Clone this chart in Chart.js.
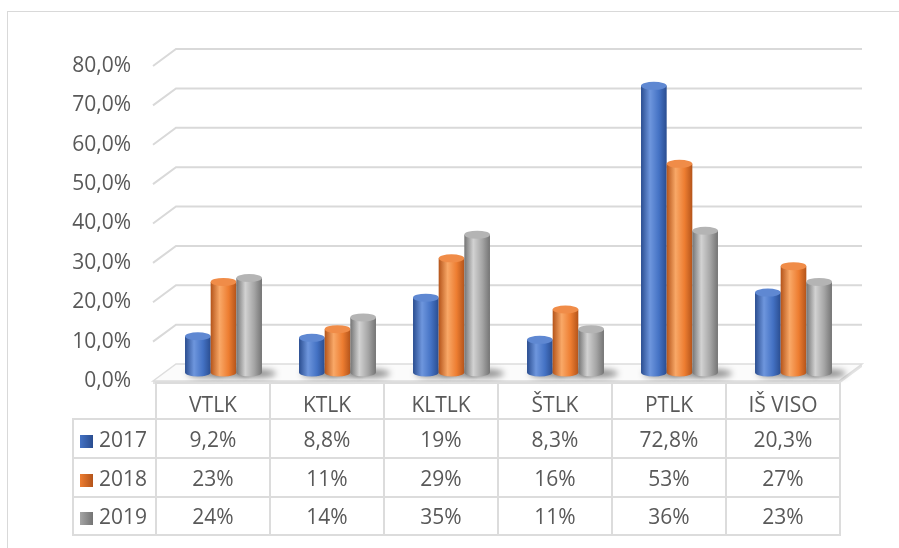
<!DOCTYPE html>
<html>
<head>
<meta charset="utf-8">
<script src="https://cdn.jsdelivr.net/npm/chart.js@4.4.0/dist/chart.umd.min.js"></script>
<style>
body { margin: 0; background: #fff; }
#wrap { position: relative; width: 899px; height: 548px; overflow: hidden; font-family: 'Open Sans', sans-serif; }
#frame { position: absolute; left: 7px; top: 11px; width: 1000px; height: 1000px; border: 1px solid #d9d9d9; }
canvas { position: absolute; left: 0; top: 0; }
#tbl { position: absolute; border-collapse: collapse; color: #595959; font-size: 21px; table-layout: fixed; }
#tbl td { border: 2px solid #dcdcdc; text-align: center; padding: 0; white-space: nowrap; }
#tbl td.lbl { text-align: left; padding-left: 6px; }
#tbl td.empty { border: none; }
.sw { display: inline-block; width: 13px; height: 13px; margin-right: 6px; vertical-align: -1px; }
</style>
</head>
<body>
<div id="wrap">
  <div id="frame"></div>
  <canvas id="chart" width="899" height="548"></canvas>
  <table id="tbl"></table>
</div>
<script>
// Duomenys
const categories = ['VTLK', 'KTLK', 'KLTLK', 'ŠTLK', 'PTLK', 'IŠ VISO'];
const years = ['2017', '2018', '2019'];
const values2017 = [9.2, 8.8, 19, 8.3, 72.8, 20.3];
const values2018 = [23, 11, 29, 16, 53, 27];
const values2019 = [24, 14, 35, 11, 36, 23];
const yTicks = [0, 10, 20, 30, 40, 50, 60, 70, 80];

const series = [values2017, values2018, values2019];
const palette = [
    { dark: '#2a4d90', light: '#6e96dd', mid: '#4472c4', top: '#5f88d2' },
    { dark: '#b4541a', light: '#f9a867', mid: '#ed7d31', top: '#f08c48' },
    { dark: '#747474', light: '#d2d2d2', mid: '#a5a5a5', top: '#b4b4b4' }
];

// 3D poslinkis (gylis)
const DX = 23, DY = -17;

function fmtPct(v) {
    return (Number.isInteger(v) ? String(v) : String(v).replace('.', ',')) + '%';
}

function drawCylinder(ctx, cx, top, base, w, c) {
    const rx = w / 2, ry = 4;
    const g = ctx.createLinearGradient(cx - rx, 0, cx + rx, 0);
    g.addColorStop(0, c.dark);
    g.addColorStop(0.35, c.light);
    g.addColorStop(0.7, c.mid);
    g.addColorStop(1, c.dark);
    ctx.fillStyle = g;
    ctx.beginPath();
    ctx.moveTo(cx - rx, top);
    ctx.lineTo(cx - rx, base);
    ctx.ellipse(cx, base, rx, ry, 0, Math.PI, 0, true);
    ctx.lineTo(cx + rx, top);
    ctx.closePath();
    ctx.fill();
    ctx.fillStyle = c.top;
    ctx.beginPath();
    ctx.ellipse(cx, top, rx, ry, 0, 0, Math.PI * 2);
    ctx.fill();
}

const cylinderPlugin = {
    id: 'cylinders',
    beforeDatasetsDraw(chart) {
        const ctx = chart.ctx;
        const area = chart.chartArea;
        const y = chart.scales.y;
        ctx.save();

        // galinės sienos tinklelis
        ctx.strokeStyle = '#d9d9d9';
        ctx.lineWidth = 2;
        yTicks.forEach(t => {
            if (t === 0) return;
            const py = y.getPixelForValue(t);
            ctx.beginPath();
            ctx.moveTo(area.left - 2, py);
            ctx.lineTo(area.left - 2 + DX, py + DY);
            ctx.lineTo(area.right + DX, py + DY);
            ctx.stroke();
        });

        // grindys
        const fy = y.getPixelForValue(0);
        const fl = area.left - 2, fr = area.right;
        ctx.fillStyle = '#e3e3e3';
        ctx.beginPath();
        ctx.moveTo(fl, fy);
        ctx.lineTo(fr, fy);
        ctx.lineTo(fr + DX, fy + DY);
        ctx.lineTo(fr + DX, fy + DY + 3);
        ctx.lineTo(fr, fy + 3);
        ctx.lineTo(fl, fy + 3);
        ctx.closePath();
        ctx.fill();
        ctx.fillStyle = '#fbfbfb';
        ctx.strokeStyle = '#dddddd';
        ctx.lineWidth = 1.5;
        ctx.beginPath();
        ctx.moveTo(fl, fy);
        ctx.lineTo(fl + DX, fy + DY);
        ctx.lineTo(fr + DX, fy + DY);
        ctx.lineTo(fr, fy);
        ctx.closePath();
        ctx.fill();
        ctx.stroke();

        // šešėliai
        ctx.filter = 'blur(3px)';
        chart.data.datasets.forEach((ds, di) => {
            chart.getDatasetMeta(di).data.forEach(bar => {
                const cx = bar.x + DX / 2;
                const base = bar.base + DY / 2;
                ctx.fillStyle = 'rgba(0,0,0,0.45)';
                ctx.beginPath();
                ctx.ellipse(cx + 8, base + 1, bar.width / 2 + 6, 4, 0, 0, Math.PI * 2);
                ctx.fill();
            });
        });
        ctx.filter = 'none';

        // cilindrai
        chart.data.datasets.forEach((ds, di) => {
            chart.getDatasetMeta(di).data.forEach(bar => {
                drawCylinder(ctx, bar.x + DX / 2, bar.y + DY / 2, bar.base + DY / 2, bar.width, palette[di]);
            });
        });
        ctx.restore();
        return false;
    }
};

const chart = new Chart(document.getElementById('chart').getContext('2d'), {
    type: 'bar',
    data: {
        labels: categories,
        datasets: years.map((yr, i) => ({
            label: yr,
            data: series[i],
            backgroundColor: palette[i].mid
        }))
    },
    options: {
        responsive: false,
        animation: false,
        devicePixelRatio: 1,
        events: [],
        layout: { padding: { left: 0, top: 66, right: 60, bottom: 167 } },
        datasets: { bar: { categoryPercentage: 0.675, barPercentage: 1 } },
        plugins: { legend: { display: false }, tooltip: { enabled: false } },
        scales: {
            x: { display: false },
            y: {
                min: 0,
                max: 80,
                afterFit(scale) { scale.width = 155; },
                afterBuildTicks(scale) { scale.ticks = yTicks.map(v => ({ value: v })); },
                ticks: {
                    padding: 24,
                    color: '#595959',
                    font: { family: 'Open Sans', size: 21 },
                    callback: v => v.toFixed(1).replace('.', ',') + '%'
                },
                grid: { display: false, drawTicks: false },
                border: { display: false }
            }
        }
    },
    plugins: [cylinderPlugin]
});

// Duomenų lentelė po diagrama
const area = chart.chartArea;
const colW = (area.right - area.left) / categories.length;
const legendW = 83;
const tbl = document.getElementById('tbl');
tbl.style.left = (area.left - legendW) + 'px';
tbl.style.top = (area.bottom + 1) + 'px';
tbl.style.width = (legendW + colW * categories.length) + 'px';

let html = '<colgroup><col style="width:' + legendW + 'px">';
categories.forEach(() => { html += '<col style="width:' + colW + 'px">'; });
html += '</colgroup>';
html += '<tr style="height:36px"><td class="empty"></td>';
categories.forEach(c => { html += '<td style="padding-top:6px">' + c + '</td>'; });
html += '</tr>';
const rowH = [39, 39, 38];
years.forEach((yr, i) => {
    const c = palette[i];
    html += '<tr style="height:' + rowH[i] + 'px"><td class="lbl"><span class="sw" style="background:linear-gradient(90deg,' + c.mid + ',' + c.dark + ')"></span>' + yr + '</td>';
    series[i].forEach(v => { html += '<td>' + fmtPct(v) + '</td>'; });
    html += '</tr>';
});
tbl.innerHTML = html;
</script>
</body>
</html>
